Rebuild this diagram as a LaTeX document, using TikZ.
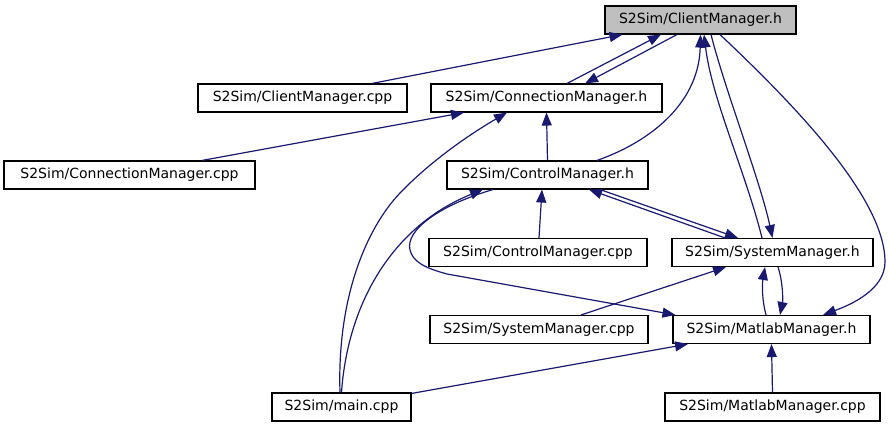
\documentclass[tikz,border=0pt]{standalone}
\usepackage{fontspec}
\setmainfont{DejaVu Sans}
\usepackage{xcolor}
\usepackage{tikz}
\usetikzlibrary{arrows.meta, calc}

\definecolor{edgeblue}{HTML}{191970}
\definecolor{headgray}{HTML}{BFBFBF}

\begin{document}
\begin{tikzpicture}[
    x=1pt, y=-1pt,
    box/.style={draw, rectangle, line width=1.1pt, minimum height=28pt, inner sep=0pt, font=\fontsize{14}{16}\selectfont},
    arrow/.style={line width=1.2pt, edgeblue, -{Triangle[length=13pt,width=10pt]}}
]
\useasboundingbox (0,0) rectangle (895,427);

\node[box, fill=headgray, minimum width=191pt] (clienth) at (700.5,20) {S2Sim/ClientManager.h};
\node[box, minimum width=209pt] (clientcpp) at (302.5,98) {S2Sim/ClientManager.cpp};
\node[box, minimum width=231pt] (connh) at (546.5,98) {S2Sim/ConnectionManager.h};
\node[box, minimum width=251pt] (conncpp) at (129.5,175) {S2Sim/ConnectionManager.cpp};
\node[box, minimum width=201pt] (ctrlh) at (547.5,175) {S2Sim/ControlManager.h};
\node[box, minimum width=218pt] (ctrlcpp) at (538,252.5) {S2Sim/ControlManager.cpp};
\node[box, minimum width=201pt] (sysh) at (772.5,252.5) {S2Sim/SystemManager.h};
\node[box, minimum width=218pt] (syscpp) at (539,329.5) {S2Sim/SystemManager.cpp};
\node[box, minimum width=197pt] (matlabh) at (771.5,329.5) {S2Sim/MatlabManager.h};
\node[box, minimum width=139pt] (main) at (341.5,407) {S2Sim/main.cpp};
\node[box, minimum width=215pt] (matlabcpp) at (772.5,407) {S2Sim/MatlabManager.cpp};

% includes of ClientManager.h
\draw[arrow] ($(clientcpp.north)+(69.5,0)$) -- ($(clienth.south)+(-78,0)$);
\draw[arrow] ($(connh.north)+(20.5,0)$) -- ($(clienth.south)+(-39.5,0)$);
\draw[arrow] ($(clienth.south)+(-23.5,0)$) -- ($(connh.north)+(38.5,0)$);
\draw[arrow] ($(ctrlh.north)+(49.5,0)$) .. controls (655,140) and (699,100) .. (clienth.south);
\draw[arrow] ($(sysh.north)+(-10.5,0)$) .. controls (745,170) and (712,100) .. ($(clienth.south)+(3.5,0)$);
\draw[arrow] ($(clienth.south)+(10.5,0)$) .. controls (725,90) and (760,180) .. (sysh.north);
\draw[arrow] ($(clienth.south)+(19.5,0)$) .. controls (800,110) and (885,200) .. (885,262)
    .. controls (885,290) and (850,305) .. ($(matlabh.north)+(51.5,0)$);

% ConnectionManager.h
\draw[arrow] ($(conncpp.north)+(72.5,0)$) -- ($(connh.south)+(-82.5,0)$);
\draw[arrow] ($(main.north)+(-1.5,0)$) .. controls (337,300) and (365,230) .. (400,193)
    .. controls (425,167) and (460,140) .. ($(connh.south)+(-39.5,0)$);
\draw[arrow] (ctrlh.north) -- (connh.south);

% ControlManager.h
\draw[arrow] ($(ctrlcpp.north)+(1,0)$) -- ($(ctrlh.south)+(-5.5,0)$);
\draw[arrow] ($(sysh.north)+(-47.5,0)$) -- ($(ctrlh.south)+(41.5,0)$);
\draw[arrow] ($(ctrlh.south)+(52.5,0)$) -- ($(sysh.north)+(-34.5,0)$);
\draw[arrow] (main.north) .. controls (348,300) and (395,225) .. ($(ctrlh.south)+(-64.5,0)$);
\draw[arrow] ($(ctrlh.south)+(-54.5,0)$) .. controls (440,205) and (405,230) .. (410,250)
    .. controls (413,262) and (425,268) .. (447,274) -- ($(matlabh.north west)+(3,0)$);

% SystemManager.h and MatlabManager.h
\draw[arrow] ($(syscpp.north)+(42,0)$) -- ($(sysh.south)+(-46.5,0)$);
\draw[arrow] ($(matlabh.north)+(-5.5,0)$) .. controls (762,300) and (762,285) .. ($(sysh.south)+(-7.5,0)$);
\draw[arrow] ($(sysh.south)+(5.5,0)$) .. controls (783,282) and (783,300) .. ($(matlabh.north)+(8.5,0)$);
\draw[arrow] ($(main.north east)+(0,1)$) -- ($(matlabh.south)+(-83.5,0)$);
\draw[arrow] (matlabcpp.north) -- (matlabh.south);

\end{tikzpicture}
\end{document}
